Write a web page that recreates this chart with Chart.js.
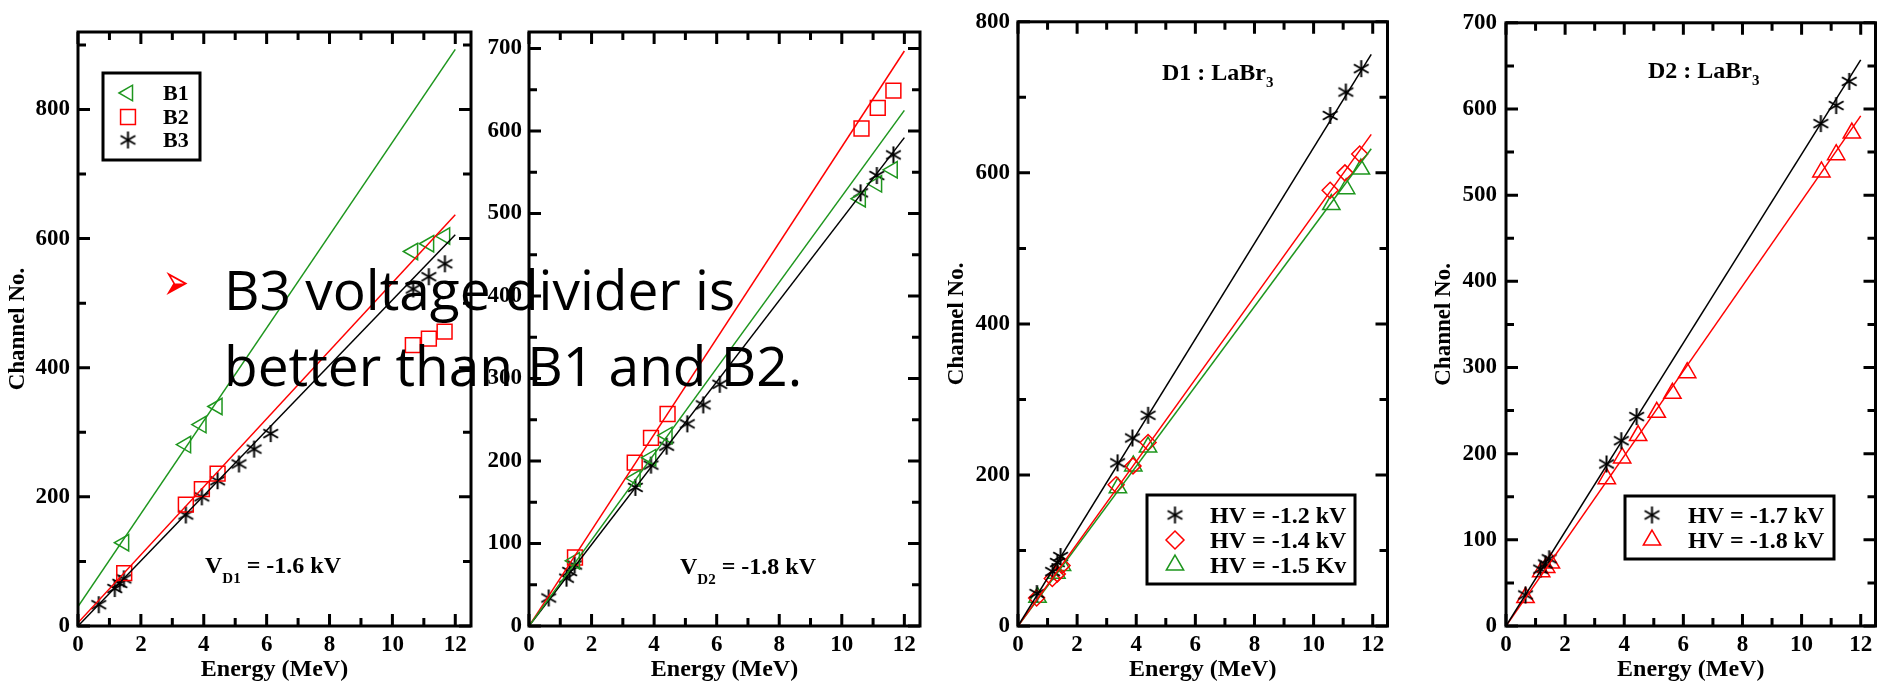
<!DOCTYPE html>
<html>
<head>
<meta charset="utf-8">
<script src="https://cdn.jsdelivr.net/npm/chart.js@4.4.0/dist/chart.umd.min.js"></script>
<style>
html, body { margin: 0; padding: 0; background: #fff; }
body { width: 1881px; height: 682px; overflow: hidden; position: relative; }
canvas { position: absolute; top: 0; }
#note { position: absolute; left: 224px; top: 251px; font-family: "Open Sans"; font-size: 55px; line-height: 76px; color: #000; white-space: nowrap; }
#bullet { position: absolute; left: 163px; top: 267px; font-family: "DejaVu Sans"; font-size: 31px; line-height: 31px; color: #f00; transform: scaleY(1.7); transform-origin: 50% 50%; }
</style>
</head>
<body>
<canvas id="c1" width="483" height="700" style="left:0px"></canvas>
<canvas id="c2" width="462" height="700" style="left:470px"></canvas>
<canvas id="c3" width="459" height="700" style="left:940px"></canvas>
<canvas id="c4" width="462" height="700" style="left:1425px"></canvas>
<div id="bullet">➢</div>
<div id="note">B3 voltage divider is<br>better than B1 and B2.</div>
<script>
// ---- data (energy in MeV, channel no.) ----
const fitEnergy = [0, 12];
const fitEnergyD1 = [0, 11.95];

// panel 1 : V_D1 = -1.6 kV
const p1B1Energy  = [1.46, 3.43, 3.92, 4.43, 10.65, 11.16, 11.67];
const p1B1Channel = [129, 281, 312, 340, 580, 592, 604];
const p1B2Energy  = [1.47, 3.43, 3.94, 4.44, 10.65, 11.16, 11.66];
const p1B2Channel = [82, 188, 212, 236, 435, 445, 456];
const p1B3Energy  = [0.66, 1.17, 1.33, 1.46, 3.43, 3.94, 4.44, 5.12, 5.6, 6.13, 10.66, 11.16, 11.67];
const p1B3Channel = [33, 58, 66, 73, 172, 200, 225, 251, 274, 298, 522, 541, 561];
const p1FitB1 = [30, 893];
const p1FitB2 = [5, 637];
const p1FitB3 = [0, 606];

// panel 2 : V_D2 = -1.8 kV
const p2B1Energy  = [1.46, 3.4, 3.9, 4.42, 10.6, 11.12, 11.62];
const p2B1Channel = [79, 179, 204, 231, 518, 536, 553];
const p2B2Energy  = [1.47, 3.38, 3.9, 4.43, 10.63, 11.15, 11.65];
const p2B2Channel = [83, 198, 228, 257, 603, 628, 649];
const p2B3Energy  = [0.63, 1.2, 1.3, 1.46, 3.4, 3.9, 4.4, 5.06, 5.57, 6.1, 10.6, 11.12, 11.65];
const p2B3Channel = [34, 58, 66, 74, 168, 195, 218, 245, 268, 293, 525, 546, 571];
const p2FitB1 = [0, 625];
const p2FitB2 = [0, 697];
const p2FitB3 = [0, 592];

// panel 3 : D1 LaBr3
const p3Hv12Energy  = [0.64, 1.17, 1.33, 1.44, 3.37, 3.87, 4.4, 10.56, 11.09, 11.61];
const p3Hv12Channel = [43, 72, 84, 92, 216, 249, 279, 676, 707, 738];
const p3Hv14Energy  = [0.63, 1.16, 1.33, 1.49, 3.32, 3.89, 4.4, 10.56, 11.06, 11.56];
const p3Hv14Channel = [37, 63, 69, 80, 187, 212, 243, 577, 600, 625];
const p3Hv15Energy  = [0.66, 1.3, 1.49, 3.38, 3.9, 4.4, 10.6, 11.1, 11.6];
const p3Hv15Channel = [38, 70, 80, 183, 212, 237, 558, 579, 605];
const p3FitHv12 = [0, 757];
const p3FitHv14 = [0, 651];
const p3FitHv15 = [0, 632];

// panel 4 : D2 LaBr3
const p4Hv17Energy  = [0.66, 1.17, 1.33, 1.46, 3.4, 3.9, 4.42, 10.65, 11.17, 11.61];
const p4Hv17Channel = [36, 66, 72, 78, 188, 215, 243, 583, 604, 632];
const p4Hv18Energy  = [0.66, 1.19, 1.36, 1.52, 3.41, 3.93, 4.47, 5.1, 5.63, 6.13, 10.67, 11.17, 11.7];
const p4Hv18Channel = [33, 63, 68, 73, 171, 195, 221, 248, 270, 294, 527, 547, 572];
const p4FitHv17 = [0, 657];
const p4FitHv18 = [0, 592];

const GREEN = '#1e961e';
const RED = '#ff0000';
const BLACK = '#000000';

Chart.defaults.font.family = '"Liberation Serif", "DejaVu Serif", serif';
Chart.defaults.font.weight = 'bold';
Chart.defaults.color = '#000';

// six-armed asterisk used as point style
function asterisk(size, lw) {
    const c = document.createElement('canvas');
    c.width = size;
    c.height = size;
    const g = c.getContext('2d');
    const r = size / 2 - 1;
    g.strokeStyle = BLACK;
    g.lineWidth = lw;
    g.translate(size / 2, size / 2);
    [90, 30, 150].forEach(a => {
        const t = a * Math.PI / 180;
        g.beginPath();
        g.moveTo(-r * Math.cos(t), -r * Math.sin(t));
        g.lineTo(r * Math.cos(t), r * Math.sin(t));
        g.stroke();
    });
    return c;
}
const star = asterisk(19, 2);

function pts(xs, ys) {
    return xs.map((x, i) => ({ x: x, y: ys[i] }));
}

function marks(label, xs, ys, color, style, radius, rotation) {
    return {
        label: label,
        data: pts(xs, ys),
        borderColor: color,
        backgroundColor: 'rgba(0,0,0,0)',
        pointStyle: style,
        pointRadius: radius,
        pointRotation: rotation || 0,
        pointBorderWidth: 1.5,
        showLine: false
    };
}

function fit(xs, ys, color) {
    return {
        fit: true,
        data: pts(xs, ys),
        borderColor: color,
        borderWidth: 1.5,
        pointRadius: 0,
        showLine: true
    };
}

// box with inward ticks on all four sides
const frame = {
    id: 'frame',
    afterDatasetsDraw(chart, args, o) {
        const { ctx, chartArea: a, scales: { x, y } } = chart;
        ctx.save();
        ctx.strokeStyle = '#000';
        for (let v = 0; v <= x.max; v += o.xMinor) {
            const major = v % o.xMajor === 0;
            const len = major ? 12 : 8;
            const px = x.getPixelForValue(v);
            ctx.lineWidth = 3;
            ctx.beginPath();
            ctx.moveTo(px, a.bottom); ctx.lineTo(px, a.bottom - len);
            ctx.moveTo(px, a.top); ctx.lineTo(px, a.top + len);
            ctx.stroke();
        }
        for (let v = 0; v <= y.max; v += o.yMinor) {
            const major = v % o.yMajor === 0;
            const len = major ? 12 : 8;
            const py = y.getPixelForValue(v);
            ctx.lineWidth = 3;
            ctx.beginPath();
            ctx.moveTo(a.left, py); ctx.lineTo(a.left + len, py);
            ctx.moveTo(a.right, py); ctx.lineTo(a.right - len, py);
            ctx.stroke();
        }
        ctx.lineWidth = 3;
        ctx.strokeRect(a.left, a.top, a.right - a.left, a.bottom - a.top);
        ctx.restore();
    }
};

// legend box and the text notes inside the plots
const extras = {
    id: 'extras',
    afterDraw(chart, args, o) {
        const ctx = chart.ctx;
        const off = o.left;
        ctx.save();
        const lg = o.legend;
        if (lg) {
            ctx.lineWidth = 3;
            ctx.strokeStyle = '#000';
            ctx.strokeRect(lg.box[0] - off, lg.box[1], lg.box[2] - lg.box[0], lg.box[3] - lg.box[1]);
            const sets = chart.data.datasets.filter(d => !d.fit);
            sets.forEach((d, i) => {
                ctx.strokeStyle = d.borderColor;
                ctx.fillStyle = 'rgba(0,0,0,0)';
                ctx.lineWidth = 1.5;
                Chart.helpers.drawPoint(ctx, {
                    pointStyle: d.pointStyle,
                    rotation: d.pointRotation,
                    radius: lg.radius[i],
                    borderWidth: 1.5
                }, lg.markerX - off, lg.rows[i]);
                ctx.fillStyle = '#000';
                ctx.font = 'bold ' + lg.size + 'px "Liberation Serif"';
                ctx.textBaseline = 'alphabetic';
                ctx.textAlign = 'left';
                ctx.fillText(d.label, lg.textX - off, lg.base[i]);
            });
        }
        (o.notes || []).forEach(n => {
            let x = n.x - off;
            ctx.fillStyle = '#000';
            ctx.textAlign = 'left';
            ctx.textBaseline = 'alphabetic';
            n.parts.forEach(p => {
                const sub = p[1];
                ctx.font = 'bold ' + (sub ? 15 : 24) + 'px "Liberation Serif"';
                ctx.fillText(p[0], x, n.y + (sub ? n.sub : 0));
                x += ctx.measureText(p[0]).width;
            });
        });
        ctx.restore();
    }
};

function makePanel(id, p, datasets) {
    new Chart(document.getElementById(id), {
        type: 'scatter',
        data: { datasets: datasets },
        options: {
            responsive: false,
            animation: false,
            events: [],
            layout: { padding: { top: p.top, right: 5, bottom: 0, left: 0 } },
            scales: {
                x: {
                    type: 'linear', min: 0, max: 12.5,
                    afterFit: s => { s.height = 74; },
                    grid: { display: false, drawTicks: false },
                    border: { display: false },
                    ticks: { stepSize: 2, includeBounds: false, padding: 5, maxRotation: 0, font: { size: 23 } },
                    title: { display: true, text: 'Energy (MeV)', font: { size: 24 }, padding: { top: 0, bottom: 16 } }
                },
                y: {
                    type: 'linear', min: 0, max: p.yMax,
                    afterFit: s => { s.width = p.yw; },
                    grid: { display: false, drawTicks: false },
                    border: { display: false },
                    ticks: { stepSize: p.yStep, includeBounds: false, padding: p.yPad, font: { size: 23 } },
                    title: { display: p.yTitle, text: 'Channel No.', font: { size: 23 }, padding: { top: p.titlePad, bottom: 0 } }
                }
            },
            plugins: {
                legend: { display: false },
                tooltip: { enabled: false },
                frame: { xMajor: 2, xMinor: 1, yMajor: p.yStep, yMinor: p.yStep / 2 },
                extras: { left: p.left, legend: p.legend, notes: p.notes }
            }
        },
        plugins: [frame, extras]
    });
}

makePanel('c1', {
    left: 0, top: 32, yw: 78, yMax: 920, yStep: 200, yPad: 8, yTitle: true, titlePad: 4.2,
    legend: { box: [103, 73, 200, 160], markerX: 128, textX: 163, rows: [93, 117, 140], base: [100, 123.5, 147], size: 22, radius: [9, 10.5, 0] },
    notes: [{ x: 205, y: 573, sub: 10, parts: [['V'], ['D1', 1], [' = -1.6 kV']] }]
}, [
    fit(fitEnergy, p1FitB1, GREEN),
    fit(fitEnergy, p1FitB2, RED),
    fit(fitEnergy, p1FitB3, BLACK),
    marks('B1', p1B1Energy, p1B1Channel, GREEN, 'triangle', 9.5, -90),
    marks('B2', p1B2Energy, p1B2Channel, RED, 'rect', 10.5),
    marks('B3', p1B3Energy, p1B3Channel, BLACK, star, 8)
]);

makePanel('c2', {
    left: 470, top: 32, yw: 59, yMax: 720, yStep: 100, yPad: 7, yTitle: false, titlePad: 0,
    notes: [{ x: 680, y: 574, sub: 10, parts: [['V'], ['D2', 1], [' = -1.8 kV']] }]
}, [
    fit(fitEnergy, p2FitB1, GREEN),
    fit(fitEnergy, p2FitB2, RED),
    fit(fitEnergy, p2FitB3, BLACK),
    marks('B1', p2B1Energy, p2B1Channel, GREEN, 'triangle', 9.5, -90),
    marks('B2', p2B2Energy, p2B2Channel, RED, 'rect', 10.5),
    marks('B3', p2B3Energy, p2B3Channel, BLACK, star, 8)
]);

makePanel('c3', {
    left: 940, top: 18, yw: 78, yMax: 800, yStep: 200, yPad: 8, yTitle: true, titlePad: 3.7,
    legend: { box: [1147, 495, 1355, 584], markerX: 1175, textX: 1210, rows: [515, 540, 565], base: [523, 548, 573], size: 24, radius: [0, 9, 10] },
    notes: [{ x: 1162, y: 80, sub: 7, parts: [['D1 : LaBr'], ['3', 1]] }]
}, [
    fit(fitEnergyD1, p3FitHv12, BLACK),
    fit(fitEnergyD1, p3FitHv14, RED),
    fit(fitEnergyD1, p3FitHv15, GREEN),
    marks('HV = -1.2 kV', p3Hv12Energy, p3Hv12Channel, BLACK, star, 8),
    marks('HV = -1.4 kV', p3Hv14Energy, p3Hv14Channel, RED, 'rectRot', 8),
    marks('HV = -1.5 Kv', p3Hv15Energy, p3Hv15Channel, GREEN, 'triangle', 10)
]);

makePanel('c4', {
    left: 1425, top: 18, yw: 81, yMax: 700, yStep: 100, yPad: 9, yTitle: true, titlePad: 5.2,
    legend: { box: [1625, 496, 1834, 559], markerX: 1652, textX: 1688, rows: [515, 540], base: [523, 548], size: 24, radius: [0, 10] },
    notes: [{ x: 1648, y: 77.5, sub: 7, parts: [['D2 : LaBr'], ['3', 1]] }]
}, [
    fit(fitEnergy, p4FitHv17, BLACK),
    fit(fitEnergy, p4FitHv18, RED),
    marks('HV = -1.7 kV', p4Hv17Energy, p4Hv17Channel, BLACK, star, 8),
    marks('HV = -1.8 kV', p4Hv18Energy, p4Hv18Channel, RED, 'triangle', 10)
]);
</script>
</body>
</html>
